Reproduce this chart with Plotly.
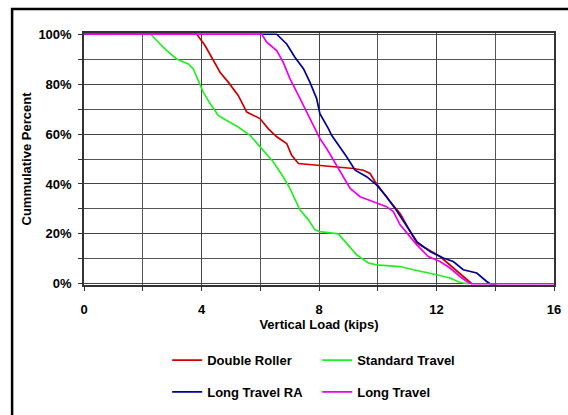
import plotly.graph_objects as go

# ---------------- data ----------------
dr_x = [0, 3.84, 4.12, 4.40, 4.63, 4.91, 5.25, 5.54, 5.99, 6.27, 6.56, 6.90, 7.07, 7.30, 7.92, 8.60,
        9.17, 9.51, 9.74, 9.91, 10.13, 10.42, 10.76, 11.33, 12.12, 12.57, 13.03, 13.2]
dr_y = [100, 100, 95.5, 89.5, 84.8, 80.8, 75.5, 68.8, 66.2, 62.2, 58.9, 56.2, 51.5, 48.2, 47.5, 46.6,
        46.2, 45.5, 44.2, 40.9, 37.5, 32.9, 28.2, 16.3, 10.9, 6.3, 1.6, 0]

st_x = [0, 2.27, 2.59, 2.81, 3.15, 3.55, 3.72, 3.95, 4.06, 4.29, 4.57, 4.74, 4.97, 5.25, 5.65, 5.99,
        6.44, 6.78, 7.01, 7.35, 7.64, 7.86, 8.03, 8.66, 8.94, 9.28, 9.68, 9.96, 10.76, 11.21, 12.01,
        12.46, 12.80, 13.1]
st_y = [100, 100, 96.1, 93.5, 90.1, 88.1, 86.1, 80.2, 76.8, 72.2, 67.5, 66.2, 64.8, 62.8, 59.5, 54.9,
        48.9, 42.9, 38.2, 29.6, 25.6, 21.6, 20.9, 20.0, 16.3, 11.6, 8.3, 7.6, 6.9, 5.6, 3.6,
        2.3, 0.5, 0]

ltra_x = [0, 6.56, 6.90, 7.18, 7.47, 7.69, 7.92, 8.03, 8.32, 8.43, 8.94, 9.23, 9.62, 9.96, 10.30,
          10.59, 11.33, 11.78, 12.23, 12.57, 12.91, 13.37, 13.71, 13.82, 14.05]
ltra_y = [100, 100, 96.1, 90.8, 86.2, 80.8, 74.2, 68.2, 62.2, 59.5, 50.9, 45.5, 42.9, 39.6, 34.9,
          30.2, 16.9, 12.9, 10.3, 8.9, 5.6, 4.3, 0.9, 0, 0]

lt_x = [0, 6.05, 6.22, 6.56, 6.78, 7.01, 7.30, 7.58, 7.81, 8.03, 8.26, 8.49, 8.77, 9.06, 9.40, 9.85,
        10.30, 10.53, 10.76, 11.33, 11.72, 12.12, 12.46, 12.80, 13.03, 13.2, 16]
lt_y = [100, 100, 96.8, 93.5, 88.8, 82.2, 75.5, 68.8, 63.5, 58.2, 54.2, 49.5, 44.2, 38.2, 34.9, 32.9,
        30.9, 28.9, 23.6, 15.6, 10.9, 8.9, 6.3, 2.9, 0.9, 0, 0]

x_ticks = [0, 4, 8, 12, 16]
y_ticks = [0, 20, 40, 60, 80, 100]
y_tick_text = ["0%", "20%", "40%", "60%", "80%", "100%"]

FONT = "Liberation Sans, Arial, sans-serif"

fig = go.Figure()
fig.add_trace(go.Scatter(x=dr_x, y=dr_y, mode="lines", name="Double Roller",
                         line=dict(color="#cc0000", width=1.7), legend="legend"))
fig.add_trace(go.Scatter(x=st_x, y=st_y, mode="lines", name="Standard Travel",
                         line=dict(color="#22ee22", width=1.7), legend="legend"))
fig.add_trace(go.Scatter(x=ltra_x, y=ltra_y, mode="lines", name="Long Travel RA",
                         line=dict(color="#000099", width=1.7), legend="legend2"))
fig.add_trace(go.Scatter(x=lt_x, y=lt_y, mode="lines", name="Long Travel",
                         line=dict(color="#ee00ee", width=1.7), legend="legend2"))

legend_common = dict(orientation="h", xanchor="left", yanchor="middle", x=0.177,
                     entrywidth=105, font=dict(family=FONT, size=13, color="black", weight="bold"),
                     bgcolor="rgba(0,0,0,0)", borderwidth=0, traceorder="normal")

fig.update_layout(
    width=568, height=415,
    margin=dict(l=84, r=14, t=33, b=130, autoexpand=False),
    paper_bgcolor="white", plot_bgcolor="white",
    font=dict(family=FONT, size=13, color="black", weight="bold"),
    showlegend=True,
    legend=dict(y=-0.298, **legend_common),
    legend2=dict(y=-0.424, **legend_common),
    xaxis=dict(range=[0, 16], tickvals=x_ticks, ticktext=[str(v) for v in x_ticks],
               showgrid=True, gridcolor="#444", gridwidth=1,
               minor=dict(dtick=2, showgrid=True, gridcolor="#555", gridwidth=1,
                          ticks="outside", ticklen=4, tickcolor="#333"),
               ticks="outside", ticklen=4, tickcolor="#333", ticklabelstandoff=8,
               showline=True, linecolor="#333", linewidth=1.5, mirror=True, zeroline=False,
               title=dict(text="Vertical Load (kips)", standoff=2,
                          font=dict(family=FONT, size=13, color="black", weight="bold"))),
    yaxis=dict(range=[-0.5, 100.5], tickvals=y_ticks, ticktext=y_tick_text,
               showgrid=True, gridcolor="#444", gridwidth=1,
               minor=dict(dtick=10, showgrid=True, gridcolor="#555", gridwidth=1,
                          ticks="outside", ticklen=4, tickcolor="#333"),
               ticks="outside", ticklen=4, tickcolor="#333", ticklabelstandoff=4,
               showline=True, linecolor="#333", linewidth=1.5, mirror=True, zeroline=False,
               title=dict(text="Cummulative Percent", standoff=4,
                          font=dict(family=FONT, size=13, color="black", weight="bold"))),
    shapes=[dict(type="path", xref="paper", yref="paper",
                 path="M -0.153,-0.6 L -0.153,1.0952 L 1.05,1.0952",
                 line=dict(color="black", width=2.5))],
)

fig.write_html("out.html")
